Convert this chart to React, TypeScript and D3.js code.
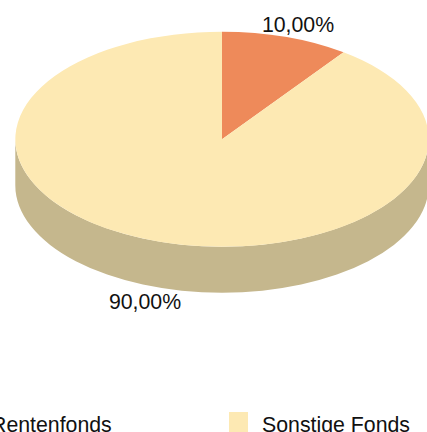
import React from 'react'
import * as d3 from 'd3'

const categories = ['Rentenfonds', 'Sonstige Fonds']
const values = [10, 90]
const valueLabels = ['10,00%', '90,00%']

const width = 427
const height = 432
const cx = 222
const cy = 139.2
const rx = 206.7
const ry = 107.5
const depth = 46
const font = 'Liberation Sans, Arial, sans-serif'

const colors = ['#EE8A5A', '#FDE9B3']
const wallColor = '#C5B78D'

const labelPos: [number, number][] = [[298, 32], [145, 309]]
const legendX = [-42, 229]

const App: React.FC = () => {
    const pie = d3.pie<number>().sort(null)
    const slices = pie(values)
    const arc = d3.arc<d3.PieArcDatum<number>>().innerRadius(0).outerRadius(1)
    const wall = `M${cx - rx},${cy}L${cx - rx},${cy + depth}A${rx},${ry} 0 0 0 ${cx + rx},${cy + depth}L${cx + rx},${cy}A${rx},${ry} 0 0 1 ${cx - rx},${cy}Z`

    return (
        <svg
            width={width}
            height={height}
            viewBox={`0 0 ${width} ${height}`}
            style={{ position: 'fixed', left: 0, top: 0, background: 'white' }}
        >
            <path d={wall} fill={wallColor} />
            <g transform={`translate(${cx},${cy}) scale(${rx},${ry})`}>
                {slices.map((d, i) => (
                    <path key={i} d={arc(d) as string} fill={colors[i]} />
                ))}
            </g>
            {valueLabels.map((t, i) => (
                <text key={i} x={labelPos[i][0]} y={labelPos[i][1]} textAnchor="middle" fontSize={21.3} fontFamily={font} fill="#111">
                    {t}
                </text>
            ))}
            {categories.map((c, i) => (
                <g key={c} transform={`translate(${legendX[i]},412)`}>
                    <rect width={19} height={20} fill={colors[i]} />
                    <text x={33} y={20} fontSize={21.3} fontFamily={font} fill="#111">{c}</text>
                </g>
            ))}
        </svg>
    )
}

export default App
